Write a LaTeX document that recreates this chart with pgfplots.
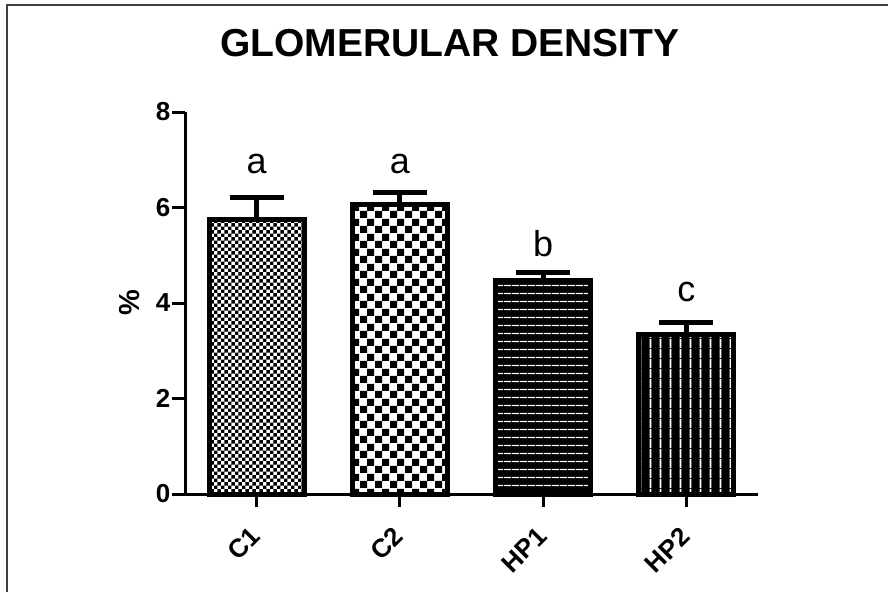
\documentclass[border=0pt]{standalone}
\usepackage{pgfplots}
\pgfplotsset{compat=1.18}
\usepackage{fontspec}
\setmainfont{Liberation Sans}
\newfontfamily\tlf{Liberation Sans}[Scale=2.6]
\newfontfamily\ylf{Liberation Sans}[Scale=2.9]
\usetikzlibrary{patterns}

\pgfdeclarepatternformonly{finechecker}{\pgfpointorigin}{\pgfqpoint{7.4pt}{7.4pt}}{\pgfqpoint{7.4pt}{7.4pt}}{%
  \pgfpathrectangle{\pgfpointorigin}{\pgfqpoint{3.7pt}{3.7pt}}%
  \pgfpathrectangle{\pgfqpoint{3.7pt}{3.7pt}}{\pgfqpoint{3.7pt}{3.7pt}}%
  \pgfusepath{fill}}
\pgfdeclarepatternformonly{coarsechecker}{\pgfpointorigin}{\pgfqpoint{15pt}{15pt}}{\pgfqpoint{15pt}{15pt}}{%
  \pgfpathrectangle{\pgfpointorigin}{\pgfqpoint{7.5pt}{7.5pt}}%
  \pgfpathrectangle{\pgfqpoint{7.5pt}{7.5pt}}{\pgfqpoint{7.5pt}{7.5pt}}%
  \pgfusepath{fill}}
\pgfdeclarepatternformonly{hwhite}{\pgfpointorigin}{\pgfqpoint{8pt}{8pt}}{\pgfqpoint{8pt}{8pt}}{%
  \pgfpathrectangle{\pgfqpoint{0pt}{3.3pt}}{\pgfqpoint{8pt}{1.4pt}}%
  \pgfusepath{fill}}
\pgfdeclarepatternformonly{vwhite}{\pgfpointorigin}{\pgfqpoint{9.5pt}{9.5pt}}{\pgfqpoint{9.5pt}{9.5pt}}{%
  \pgfpathrectangle{\pgfqpoint{3.9pt}{0pt}}{\pgfqpoint{1.7pt}{9.5pt}}%
  \pgfusepath{fill}}

\begin{document}
\begin{tikzpicture}[x=1pt,y=1pt]
\path[use as bounding box] (0,0) rectangle (888,592);
\draw[line width=1.5pt, black!75] (7,0) -- (7,587) -- (888,587);
\node[anchor=base, font=\fontsize{39}{44}\selectfont\bfseries] at (450,535) {GLOMERULAR DENSITY};
\begin{axis}[
  at={(185pt,98pt)}, anchor=south west,
  scale only axis, width=573pt, height=382pt,
  xmin=-0.5, xmax=3.5, ymin=0, ymax=8,
  axis x line*=bottom, axis y line*=left,
  axis line style={line width=3pt},
  every tick/.style={black, line width=3pt},
  tick align=outside, major tick length=13pt,
  xtick={0,1,2,3}, xticklabels={C1,C2,HP1,HP2},
  ytick={0,2,4,6,8},
  /pgf/number format/assume math mode=true,
  tick label style={font=\tlf\bfseries},
  yticklabel style={inner sep=1.5pt},
  xticklabel style={xshift=-1pt, yshift=-25pt, rotate=45, anchor=east, inner sep=0pt},
  ylabel={\%},
  ylabel style={font=\ylf\bfseries, at={(axis description cs:-0.079,0.5)}, anchor=south, inner sep=0pt},
  ybar, bar width=0.663, bar shift=0pt,
  clip=false,
  error bars/y dir=plus, error bars/y explicit,
  error bars/error bar style={line width=5pt, black},
  error bars/error mark options={rotate=90, mark size=27pt, line width=5pt, black},
]
\addplot[draw=black, line width=5pt, pattern=finechecker, pattern color=black] coordinates {(0,5.75) +- (0,0.45)};
\addplot[draw=black, line width=5pt, pattern=coarsechecker, pattern color=black] coordinates {(1,6.06) +- (0,0.26)};
\addplot[forget plot, draw=none, fill=black] coordinates {(2,4.48)};
\addplot[draw=black, line width=5pt, pattern=hwhite, pattern color=white] coordinates {(2,4.48) +- (0,0.16)};
\addplot[forget plot, draw=none, fill=black] coordinates {(3,3.33)};
\addplot[draw=black, line width=5pt, pattern=vwhite, pattern color=white] coordinates {(3,3.33) +- (0,0.26)};
\node[anchor=base, font=\fontsize{36}{40}\selectfont] at (axis cs:0,6.71) {a};
\node[anchor=base, font=\fontsize{36}{40}\selectfont] at (axis cs:1,6.71) {a};
\node[anchor=base, font=\fontsize{36}{40}\selectfont] at (axis cs:2,4.98) {b};
\node[anchor=base, font=\fontsize{36}{40}\selectfont] at (axis cs:3,4.03) {c};
\end{axis}
\end{tikzpicture}
\end{document}
